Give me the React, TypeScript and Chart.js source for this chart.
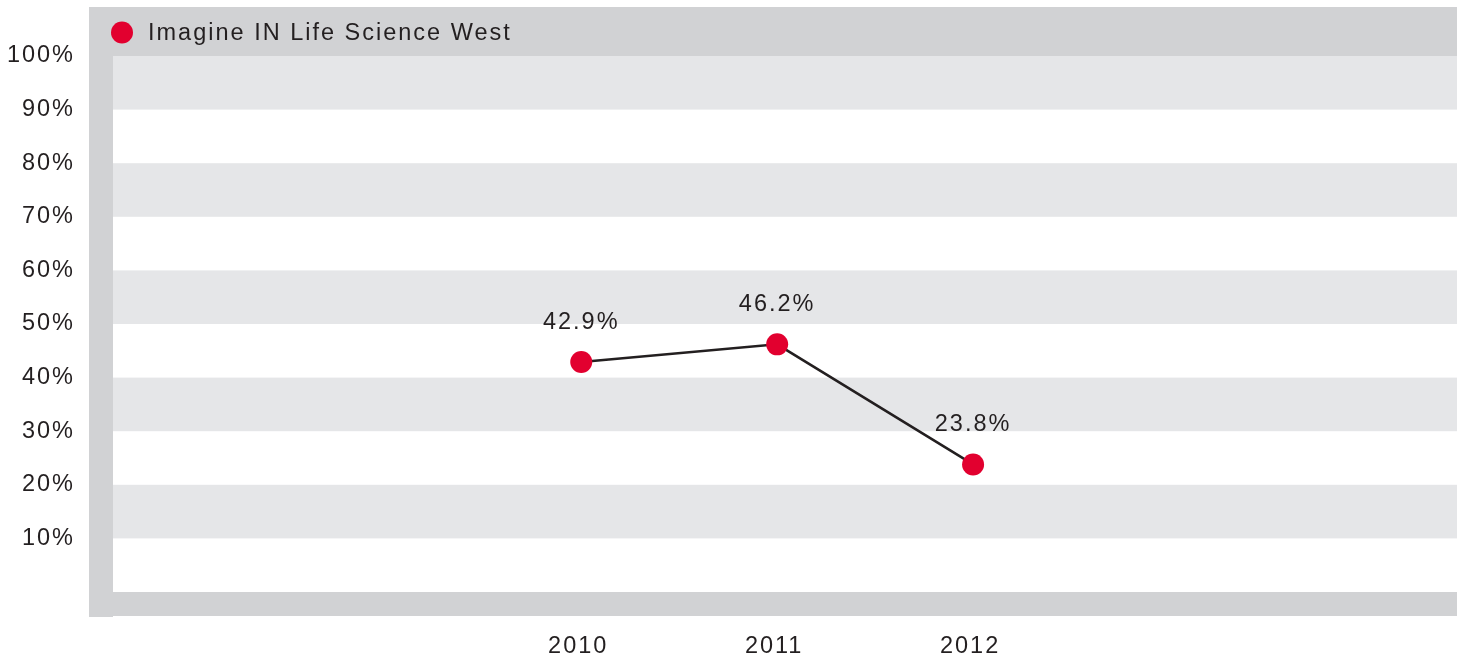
import React, { useEffect, useRef } from 'react';
import { Chart, registerables } from 'chart.js';

Chart.register(...registerables);

const seriesName = 'Imagine IN Life Science West';
const years = [2010, 2011, 2012];
const values = [42.9, 46.2, 23.8];
const yTicks = [0, 10, 20, 30, 40, 50, 60, 70, 80, 90, 100];
const stripeStarts = [10, 30, 50, 70, 90];

const RED = '#e2002f';
const FRAME = '#d1d2d4';
const STRIPE = '#e5e6e8';
const TEXT = '#231f20';
const FONT_FAMILY = '"Liberation Sans", Arial, Helvetica, sans-serif';
const FONT_SIZE = 23.5;
const SPACING = '2px';

const framePlugin = {
  id: 'framePlugin',
  beforeDraw(chart: any) {
    const { ctx, chartArea } = chart;
    const y = chart.scales.y;
    const { left, right, top, bottom } = chartArea;
    ctx.save();
    // frame
    ctx.fillStyle = FRAME;
    ctx.fillRect(left - 24, top - 49, right - left + 24, 49);
    ctx.fillRect(left - 24, top - 49, 24, bottom - top + 49 + 25);
    ctx.fillRect(left - 24, bottom, right - left + 24, 24);
    // stripes
    ctx.fillStyle = STRIPE;
    stripeStarts.forEach((v) => {
      const y1 = y.getPixelForValue(v + 10);
      const y2 = y.getPixelForValue(v);
      ctx.fillRect(left, y1, right - left, y2 - y1);
    });
    // legend
    const ds = chart.data.datasets[0];
    ctx.fillStyle = ds.pointBackgroundColor;
    ctx.beginPath();
    ctx.arc(left + 9, top - 23.5, 11, 0, Math.PI * 2);
    ctx.fill();
    ctx.font = `${FONT_SIZE}px ${FONT_FAMILY}`;
    (ctx as any).letterSpacing = SPACING;
    ctx.fillStyle = TEXT;
    ctx.textAlign = 'left';
    ctx.textBaseline = 'middle';
    ctx.fillText(ds.label, left + 35, top - 22.5);
    ctx.restore();
    (ctx as any).letterSpacing = SPACING;
  },
  afterDatasetsDraw(chart: any) {
    const { ctx } = chart;
    const meta = chart.getDatasetMeta(0);
    const ds = chart.data.datasets[0];
    ctx.save();
    ctx.font = `${FONT_SIZE}px ${FONT_FAMILY}`;
    (ctx as any).letterSpacing = SPACING;
    ctx.fillStyle = TEXT;
    ctx.textAlign = 'center';
    ctx.textBaseline = 'middle';
    meta.data.forEach((pt: any, i: number) => {
      const v = ds.data[i].y;
      ctx.fillText(v.toFixed(1) + '%', pt.x, pt.y - 40);
    });
    ctx.restore();
  },
};

export default function App() {
  const ref = useRef<HTMLCanvasElement | null>(null);
  useEffect(() => {
    if (!ref.current) return;
    const font = { family: FONT_FAMILY, size: FONT_SIZE };
    const chart = new Chart(ref.current, {
      type: 'line',
      data: {
        datasets: [
          {
            label: seriesName,
            data: years.map((yr, i) => ({ x: yr, y: values[i] })),
            borderColor: TEXT,
            borderWidth: 2.5,
            pointBackgroundColor: RED,
            pointBorderWidth: 0,
            pointRadius: 11,
            pointHoverRadius: 11,
            tension: 0,
            fill: false,
          } as any,
        ],
      },
      options: {
        responsive: false,
        animation: false,
        events: [],
        layout: { autoPadding: false, padding: { top: 56, right: 6, left: 0, bottom: 0 } },
        plugins: {
          legend: { display: false },
          tooltip: { enabled: false },
          title: { display: false },
        },
        scales: {
          x: {
            type: 'linear',
            min: 2007.61,
            max: 2014.47,
            grid: { display: false, drawTicks: false },
            border: { display: false },
            afterBuildTicks: (scale: any) => {
              scale.ticks = years.map((v) => ({ value: v }));
            },
            afterFit: (scale: any) => {
              scale.height = 66;
              scale.paddingLeft = 0;
              scale.paddingRight = 0;
            },
            ticks: {
              font,
              color: TEXT,
              padding: 40,
              labelOffset: -3,
              autoSkip: false,
              maxRotation: 0,
              callback: (v: any) => String(v),
            },
          },
          y: {
            min: 0,
            max: 100,
            grid: { display: false, drawTicks: false },
            border: { display: false },
            afterBuildTicks: (scale: any) => {
              scale.ticks = yTicks.map((v) => ({ value: v }));
            },
            afterFit: (scale: any) => {
              scale.width = 113;
              scale.paddingTop = 0;
              scale.paddingBottom = 0;
            },
            ticks: {
              font,
              color: TEXT,
              padding: 38,
              autoSkip: false,
              callback: (v: any) => (v === 0 ? '' : `${v}%`),
            },
          },
        },
      },
      plugins: [framePlugin],
    });
    return () => chart.destroy();
  }, []);
  return (
    <div style={{ position: 'fixed', left: 0, top: 0, width: 1463, height: 658, background: '#fff' }}>
      <canvas ref={ref} width={1463} height={658} style={{ display: 'block' }} />
    </div>
  );
}
